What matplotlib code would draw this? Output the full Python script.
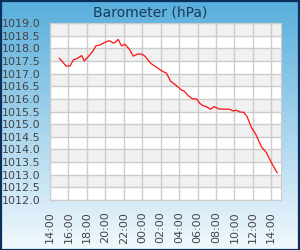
import numpy as np
import matplotlib
matplotlib.use("Agg")
import matplotlib.pyplot as plt
from matplotlib.patches import Rectangle

# hours since 14:00 on the first day
hours = [1.01, 1.37, 1.73, 2.17, 2.53, 2.96, 3.43, 3.72, 4.15, 4.62, 4.98, 5.42,
         5.96, 6.43, 6.93, 7.40, 7.76, 8.12, 8.59, 9.03, 9.49, 9.93, 10.29, 10.94,
         11.55, 12.09, 12.64, 13.07, 13.72, 14.26, 14.55, 14.98, 15.45, 15.88,
         16.25, 16.61, 16.97, 17.40, 17.80, 18.34, 18.95, 19.49, 19.86, 20.22,
         20.58, 21.01, 21.37, 21.84, 22.31, 22.92, 23.47, 24.01, 24.62]
pressure = [1017.60, 1017.46, 1017.30, 1017.30, 1017.54, 1017.60, 1017.71, 1017.50,
            1017.67, 1017.87, 1018.10, 1018.13, 1018.24, 1018.30, 1018.20, 1018.35,
            1018.09, 1018.16, 1017.97, 1017.69, 1017.77, 1017.77, 1017.69, 1017.40,
            1017.25, 1017.11, 1017.01, 1016.70, 1016.52, 1016.35, 1016.31, 1016.13,
            1016.00, 1016.00, 1015.82, 1015.73, 1015.69, 1015.59, 1015.69, 1015.60,
            1015.59, 1015.59, 1015.52, 1015.55, 1015.48, 1015.47, 1015.30, 1014.87,
            1014.60, 1014.11, 1013.87, 1013.48, 1013.08]
tick_hours = list(range(0, 25, 2))
tick_labels = ["14:00", "16:00", "18:00", "20:00", "22:00", "00:00", "02:00",
               "04:00", "06:00", "08:00", "10:00", "12:00", "14:00"]
y_min, y_max, y_step = 1012.0, 1019.0, 0.5

fig = plt.figure(figsize=(3.0, 2.5), dpi=100)

# vertical gradient background
bg = fig.add_axes([0, 0, 1, 1], zorder=-10)
grad = np.linspace(0, 1, 256).reshape(-1, 1)
top = np.array([0x58, 0xae, 0xdc]) / 255
bot = np.array([0xf2, 0xf9, 0xfd]) / 255
img = top[None, None, :] * (1 - grad[:, :, None]) + bot[None, None, :] * grad[:, :, None]
bg.imshow(img, aspect="auto", extent=[0, 1, 0, 1])
bg.set_axis_off()
fig.patches.append(Rectangle((0.002, 0.002), 0.996, 0.996, transform=fig.transFigure,
                             fill=False, edgecolor="#0b2f5c", linewidth=1.6))

ax = fig.add_axes([50 / 300, 50 / 250, 231 / 300, 177 / 250])
ax.set_facecolor("white")
yt = np.arange(y_min, y_max + 0.01, y_step)
for i in range(len(yt) - 1):
    if (len(yt) - 2 - i) % 2 == 0:
        ax.axhspan(yt[i], yt[i + 1], color="#f1f1f1", zorder=0, lw=0)
ax.plot(hours, pressure, color="#ff1010", linewidth=0.9, zorder=3)

ax.set_xlim(0, 25.05)
ax.set_ylim(y_min, y_max)
ax.set_xticks(tick_hours)
ax.set_xticklabels(tick_labels, rotation=90)
ax.set_yticks(yt)
ax.set_yticklabels(["%.1f" % v for v in yt])
ax.grid(True, color="#cccccc", linewidth=1.0, zorder=1)
ax.set_axisbelow(True)
ax.tick_params(length=0, labelsize=8, labelcolor="#444444")
ax.tick_params(axis="y", pad=6.7)
ax.tick_params(axis="x", pad=8.4)
for s in ax.spines.values():
    s.set_color("#cccccc")

fig.text(0.5, 1 - 12 / 250, "Barometer (hPa)", ha="center", va="center",
         fontsize=10, color="#1a3a5c")

fig.savefig("out.png", dpi=100)
